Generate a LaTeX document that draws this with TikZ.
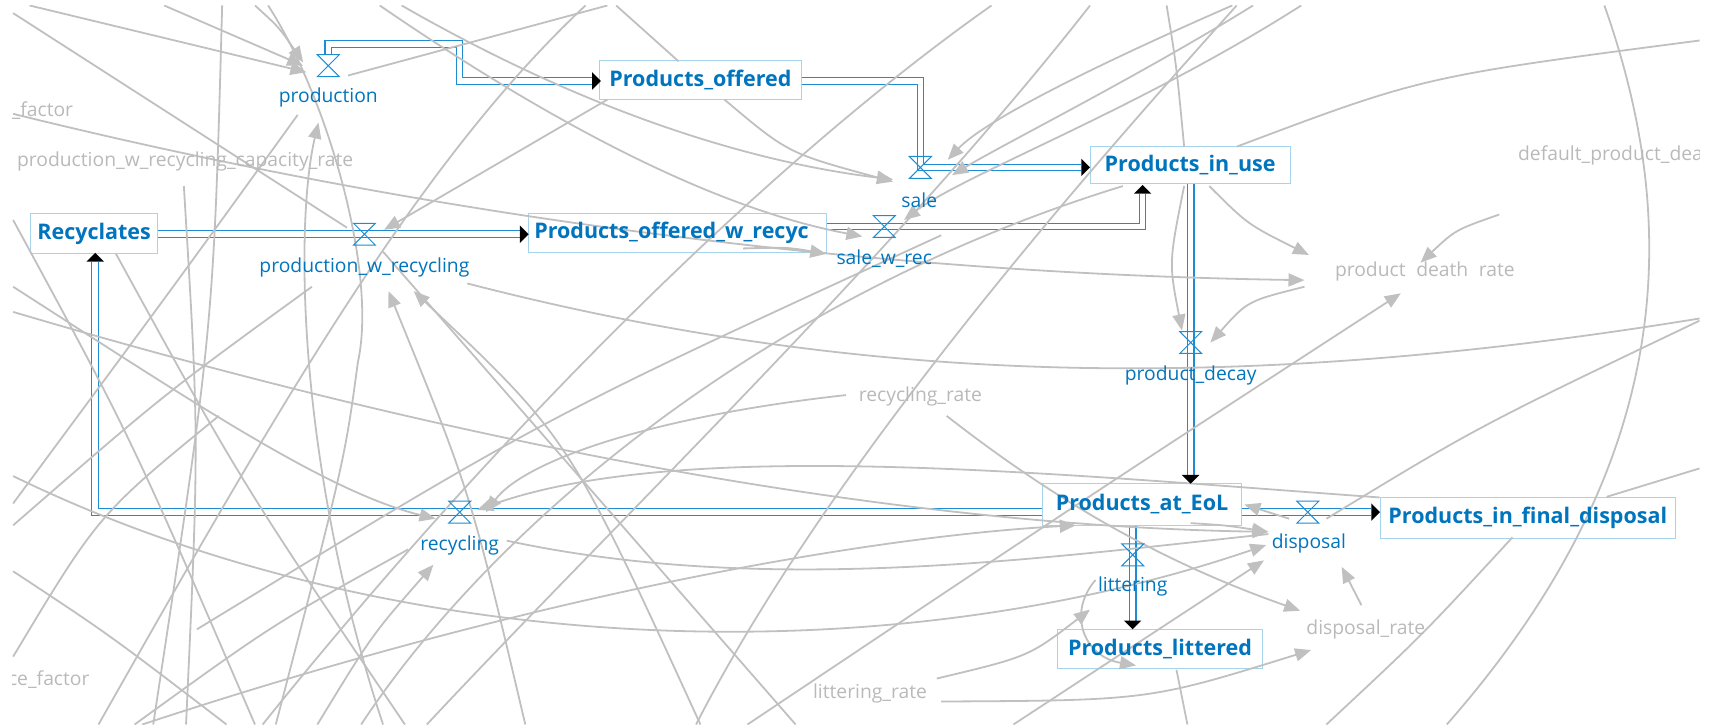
\documentclass[tikz,border=0pt]{standalone}
\usepackage{fontspec}
\setmainfont{Open Sans}
\usetikzlibrary{arrows.meta}
\definecolor{stockblue}{RGB}{0,117,190}
\definecolor{pipeblue}{RGB}{30,140,210}
\definecolor{boxline}{RGB}{165,212,236}
\definecolor{linkgray}{RGB}{192,192,192}
\definecolor{auxgray}{RGB}{185,185,185}
\newcommand\pxu{1.0944pt}
\tikzset{
  lnk/.style={draw=linkgray, line width=1.8pt},
  arr/.style={lnk, -{Triangle[length=16pt,width=13pt]}},
  stockbox/.style={draw=boxline, fill=white, line width=1pt, rectangle, inner sep=0pt},
  stocktext/.style={text=stockblue, font=\bfseries\fontsize{21.5}{25}\selectfont, inner sep=0pt},
  flowtext/.style={text=stockblue, font=\fontsize{19.3}{23}\selectfont, inner sep=0pt},
  auxtext/.style={text=auxgray, font=\fontsize{19.3}{23}\selectfont, inner sep=0pt},
  pipe/.style={draw=pipeblue, double=white, double distance=5.5pt, line width=1.1pt},
  phead/.pic={\fill[black] (0,0) -- (-8,8) -- (-8,-8) -- cycle;},
  valve/.pic={\draw[pipeblue, line width=1pt, line join=miter] (-10,-10) -- (10,-10) -- (-10,10) -- (10,10) -- cycle;},
}
\begin{document}
\begin{tikzpicture}[x=1.0944pt, y=-1.0944pt]
\useasboundingbox (0,0) rectangle (1568,662);
\begin{scope}
\clip (11,4.6) rectangle (1553,662);

% ---------- stocks (boxes)
\node[stockbox, minimum width=116*\pxu, minimum height=36*\pxu] (recyc) at (86,213.5) {};
\node[stockbox, minimum width=184*\pxu, minimum height=36*\pxu] (offered) at (640,73) {};
\node[stockbox, minimum width=272*\pxu, minimum height=36*\pxu] (offwr) at (619,213) {};
\node[stockbox, minimum width=183*\pxu, minimum height=34*\pxu] (inuse) at (1087.5,151) {};
\node[stockbox, minimum width=181*\pxu, minimum height=38*\pxu] (eol) at (1043.5,461) {};
\node[stockbox, minimum width=270*\pxu, minimum height=37*\pxu] (final) at (1396,473.5) {};
\node[stockbox, minimum width=188*\pxu, minimum height=36*\pxu] (litt) at (1060,593) {};

% ---------- valve positions
\coordinate (v-prod) at (300,60);
\coordinate (v-pwr) at (333,214);
\coordinate (v-sale) at (841,153);
\coordinate (v-swr) at (808,207);
\coordinate (v-decay) at (1088,313);
\coordinate (v-recy) at (420,468);
\coordinate (v-disp) at (1195,468);
\coordinate (v-litt) at (1035,507);

% ---------- pipes
\draw[pipe] (300,50) -- (300,40) -- (420,40) -- (420,74) -- (541,74);
\draw[pipe] (offered.east |- 0,74) -- (841,74) -- (841,153) -- (988,153);
\draw[pipe] (recyc.east |- 0,214) -- (475,214);
\draw[pipe] (offwr.east |- 0,207) -- (1044,207) -- (1044,177);
\draw[pipe] (inuse.south -| 1088,0) -- (1088,434);
\draw[pipe] (eol.west |- 0,468) -- (87,468) -- (87,239);
\draw[pipe] (eol.east |- 0,468) -- (1253,468);
\draw[pipe] (eol.south -| 1035,0) -- (1035,567);

% ---------- links: production corner
\draw[arr] (27,5) -- (280,66);
\draw[arr] (150,5) -- (277,60);
\draw[arr] (233,5) .. controls (255,25) .. (277,57);
\draw[lnk] (245,5) .. controls (300,90) and (345,250) .. (327,331) .. controls (315,420) .. (252,662);
\draw[lnk] (12,12) -- (317,208);
\draw[arr] (350,662) .. controls (270,420) and (270,200) .. (291,112);
\draw[lnk] (318,69) -- (555,5);

% ---------- links: left edge
\draw[arr] (12,104) .. controls (400,200) and (800,250) .. (1192,256);
\draw[lnk] (12,201) .. controls (120,400) .. (233,662);
\draw[arr] (12,262) .. controls (180,370) and (300,450) .. (398,474);
\draw[lnk] (106,232) .. controls (220,440) .. (370,662);
\draw[lnk] (272,105) .. controls (160,260) .. (12,460);
\draw[lnk] (168,170) .. controls (182,400) .. (170,662);
\draw[lnk] (203,5) .. controls (195,300) .. (140,662);
\draw[lnk] (535,5) .. controls (380,150) and (250,380) .. (90,662);
\draw[lnk] (285,262) .. controls (150,360) .. (12,480);
\draw[lnk] (427,259) .. controls (760,345) and (1100,365) .. (1553,291);
\draw[lnk] (12,522) .. controls (100,580) .. (207,662);
\draw[lnk] (12,600) .. controls (90,470) .. (200,380);

% ---------- links: around the offered stocks and sale
\draw[arr] (555,91) -- (351,210);
\draw[arr] (367,5) .. controls (550,110) and (700,150) .. (816,164);
\draw[arr] (347,5) .. controls (500,110) and (650,190) .. (788,216);
\draw[arr] (662,91) .. controls (720,140) .. (816,166);
\draw[arr] (679,227) .. controls (720,226) .. (755,232);
\draw[lnk] (563,5) -- (620,56);
\draw[arr] (1126,5) .. controls (1000,60) and (900,110) .. (866,146);
\draw[arr] (1145,5) .. controls (1040,70) and (920,130) .. (870,160);
\draw[arr] (1189,5) .. controls (1040,100) and (880,160) .. (826,201);
\draw[lnk] (1066,5) .. controls (1075,60) .. (1082,134);

% ---------- links: long diagonals
\draw[lnk] (906,5) .. controls (700,150) and (450,400) .. (240,662);
\draw[lnk] (996,5) .. controls (820,230) and (560,480) .. (390,662);
\draw[lnk] (1130,5) .. controls (1000,150) and (760,420) .. (636,662);
\draw[lnk] (1026,170) .. controls (700,270) and (450,480) .. (330,662);
\draw[lnk] (350,230) -- (727,662);
\draw[lnk] (180,575) .. controls (500,380) .. (860,215);

% ---------- links: recycling and production_w_recycling from below
\draw[arr] (773,361) .. controls (600,380) and (480,420) .. (444,468);
\draw[arr] (final.north west) .. controls (950,432) and (620,400) .. (436,466);
\draw[arr] (290,662) .. controls (340,580) .. (396,516);
\draw[lnk] (123,662) .. controls (250,570) .. (373,502);
\draw[arr] (480,662) .. controls (430,450) .. (355,266);
\draw[arr] (640,662) .. controls (520,400) .. (378,266);

% ---------- links: lower web towards EoL and disposal
\draw[arr] (130,662) .. controls (500,540) and (800,490) .. (983,480);
\draw[arr] (12,435) .. controls (350,600) and (800,620) .. (1157,498);
\draw[arr] (12,285) .. controls (400,400) and (800,480) .. (1159,486);
\draw[lnk] (463,494) .. controls (700,545) and (950,510) .. (1159,488);
\draw[arr] (926,662) -- (1155,512);
\draw[arr] (1088,478) .. controls (1120,480) .. (1159,486);
\draw[arr] (1178,474) -- (1137,461);
\draw[arr] (1244,553) -- (1226,518);
\draw[arr] (865,380) .. controls (980,470) and (1080,520) .. (1188,558);
\draw[arr] (860,641) .. controls (1050,640) .. (1198,594);
\draw[arr] (856,620) .. controls (940,600) .. (996,557);
\draw[arr] (1001,530) .. controls (975,560) and (990,600) .. (1038,608);
\draw[lnk] (1075,612) -- (1085,662);

% ---------- links: right side
\draw[arr] (1105,170) .. controls (1140,205) .. (1196,233);
\draw[arr] (1370,196) .. controls (1330,210) .. (1298,240);
\draw[arr] (1192,262) .. controls (1140,275) .. (1106,313);
\draw[arr] (1082,170) .. controls (1068,240) .. (1080,302);
\draw[arr] (683,662) .. controls (1000,450) .. (1280,268);
\draw[lnk] (1466,5) .. controls (1535,200) and (1535,420) .. (1322,662);
\draw[lnk] (1130,134) .. controls (1300,70) .. (1553,37);
\draw[lnk] (1212,474) .. controls (1350,390) .. (1553,293);
\draw[lnk] (1468,454) -- (1553,428);
\draw[lnk] (1382,491) .. controls (1300,580) .. (1212,662);

% ---------- valves
\foreach \v in {v-prod,v-pwr,v-sale,v-swr,v-decay,v-recy,v-disp,v-litt}
  \pic at (\v) {valve};

% ---------- pipe heads
\pic at (549,74) {phead};
\pic at (996,153) {phead};
\pic at (483,214) {phead};
\pic[rotate=90] at (1044,169) {phead};
\pic[rotate=-90] at (1088,442) {phead};
\pic[rotate=90] at (87,231) {phead};
\pic at (1261,468) {phead};
\pic[rotate=-90] at (1035,575) {phead};

% ---------- stock names
\node[stocktext] (recyc-t) at (recyc) {Recyclates};
\node[stocktext] (offered-t) at (offered) {Products\_offered};
\node[stocktext, anchor=west] (offwr-t) at (488,213) {Products\_offered\_w\_recyc};
\node[stocktext] (inuse-t) at (inuse) {Products\_in\_use};
\node[stocktext] (eol-t) at (eol) {Products\_at\_EoL};
\node[stocktext] (final-t) at (final) {Products\_in\_final\_disposal};
\node[stocktext] (litt-t) at (litt) {Products\_littered};

% ---------- flow names
\node[flowtext] (prod-t) at (300,89) {production};
\node[flowtext] (pwr-t) at (333,244) {production\_w\_recycling};
\node[flowtext] (sale-t) at (840,183) {sale};
\node[flowtext] (swr-t) at (808,236) {sale\_w\_rec};
\node[flowtext] (decay-t) at (1088,343) {product\_decay};
\node[flowtext] (recy-t) at (420,498) {recycling};
\node[flowtext] (disp-t) at (1196,497) {disposal};
\node[flowtext] (litt-f) at (1035,536) {littering};

% ---------- auxiliary names
\node[auxtext, anchor=east] (fac1) at (67,101) {\_factor};
\node[auxtext, anchor=east] (pwrcap) at (323,148) {production\_w\_recycling\_capacity\_rate};
\node[auxtext, anchor=east] (fac2) at (82,621) {ce\_factor};
\node[auxtext, anchor=west] (dpd) at (1387,142) {default\_product\_dea};
\node[auxtext] (pdr) at (1302,248) {product\hspace{0.55em}death\hspace{0.55em}rate};
\node[auxtext] (rr) at (841,362) {recycling\_rate};
\node[auxtext] (lr) at (795,634) {littering\_rate};
\node[auxtext] (dr) at (1248,575) {disposal\_rate};
\end{scope}
\end{tikzpicture}
\end{document}
